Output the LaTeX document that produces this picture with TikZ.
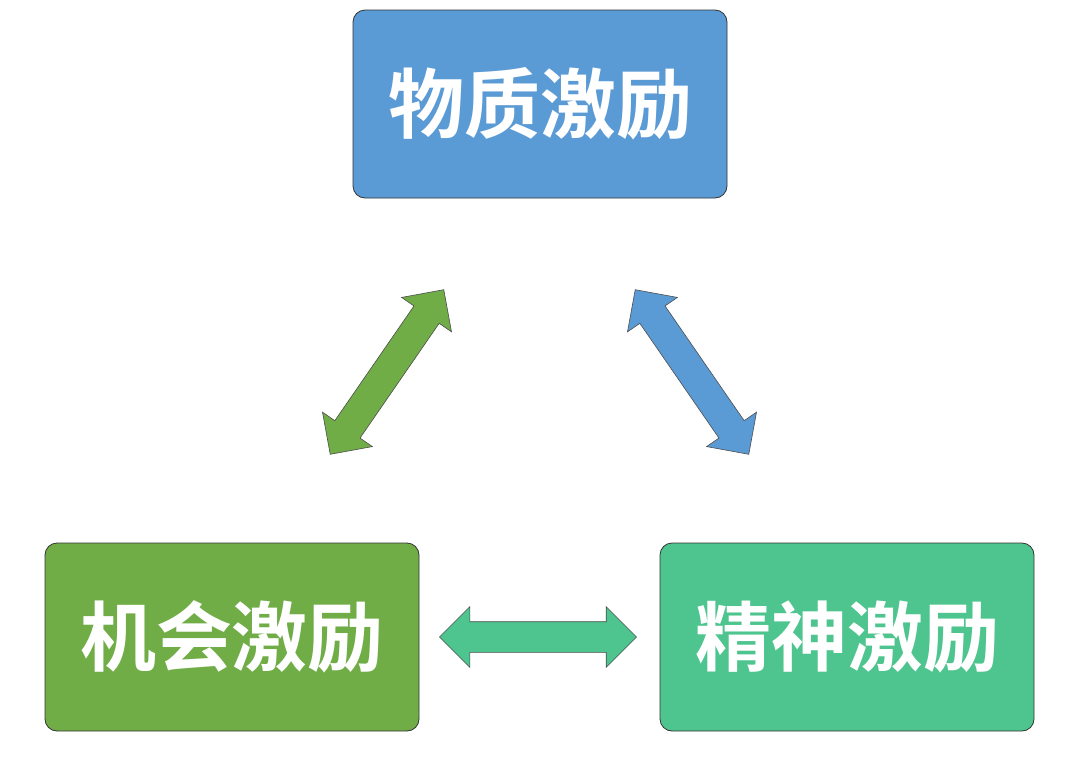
\documentclass[tikz,border=0pt]{standalone}
\usepackage{fontspec}
\newfontfamily\cjk{Noto Sans CJK SC Bold}
\usetikzlibrary{shapes.arrows}
\definecolor{cblue}{HTML}{5B9BD5}
\definecolor{cgreen}{HTML}{70AD47}
\definecolor{cteal}{HTML}{4EC58E}
\begin{document}
\begin{tikzpicture}[x=1pt,y=1pt,
 box/.style={draw=black!80,line width=0.8pt,rounded corners=12pt,minimum width=374pt,minimum height=188pt,inner sep=0pt,text=white,font=\cjk\fontsize{76}{76}\selectfont},
 dar/.style={double arrow,draw=black!70,line width=0.6pt,double arrow head extend=15pt,inner xsep=0pt,inner ysep=15pt,shape border uses incircle=false}]
\useasboundingbox (0,0) rectangle (1080,-766);
\node[box,fill=cblue] (top) at (540,-104) {物质激励};
\node[box,fill=cgreen] (left) at (232,-637) {机会激励};
\node[box,fill=cteal] (right) at (847,-637) {精神激励};
\node[dar,fill=cgreen,minimum height=200pt,rotate=55.4] (a1) at (387,-372) {};
\node[dar,fill=cblue,minimum height=200pt,rotate=-55.4] (a2) at (692,-372) {};
\node[dar,fill=cteal,minimum height=197pt] (a3) at (538,-637) {};
\end{tikzpicture}
\end{document}
